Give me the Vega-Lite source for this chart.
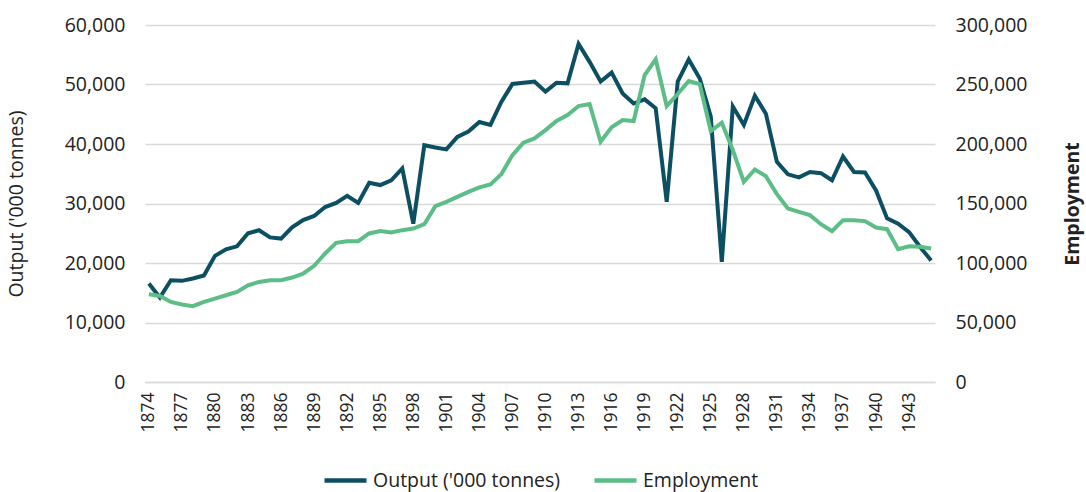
{
  "$schema": "https://vega.github.io/schema/vega-lite/v6.json",
  "width": 790,
  "height": 357,
  "autosize": {"type": "none"},
  "padding": {"left": 145, "top": 25, "right": 151, "bottom": 110},
  "background": "white",
  "config": {
    "view": {"stroke": null},
    "font": "Open Sans",
    "axis": {"labelFont": "Open Sans", "titleFont": "Open Sans", "labelColor": "#222222", "titleColor": "#222222", "labelFontSize": 19.5, "titleFontSize": 19.5},
    "legend": {"layout": {"bottom": {"anchor": "middle"}}}
  },
  "data": {
    "values": [
      {"year": 1874, "output": 16540, "employment": 73800},
      {"year": 1875, "output": 14200, "employment": 72300},
      {"year": 1876, "output": 17100, "employment": 67300},
      {"year": 1877, "output": 17000, "employment": 65100},
      {"year": 1878, "output": 17400, "employment": 63700},
      {"year": 1879, "output": 17900, "employment": 67300},
      {"year": 1880, "output": 21200, "employment": 70100},
      {"year": 1881, "output": 22300, "employment": 72900},
      {"year": 1882, "output": 22800, "employment": 75700},
      {"year": 1883, "output": 25000, "employment": 81300},
      {"year": 1884, "output": 25500, "employment": 84100},
      {"year": 1885, "output": 24300, "employment": 85500},
      {"year": 1886, "output": 24100, "employment": 85500},
      {"year": 1887, "output": 26000, "employment": 87800},
      {"year": 1888, "output": 27200, "employment": 91100},
      {"year": 1889, "output": 27900, "employment": 97600},
      {"year": 1890, "output": 29400, "employment": 108000},
      {"year": 1891, "output": 30100, "employment": 116900},
      {"year": 1892, "output": 31300, "employment": 118300},
      {"year": 1893, "output": 30100, "employment": 118300},
      {"year": 1894, "output": 33500, "employment": 124800},
      {"year": 1895, "output": 33100, "employment": 126800},
      {"year": 1896, "output": 33900, "employment": 125600},
      {"year": 1897, "output": 35900, "employment": 127600},
      {"year": 1898, "output": 26600, "employment": 129000},
      {"year": 1899, "output": 39800, "employment": 132600},
      {"year": 1900, "output": 39400, "employment": 147800},
      {"year": 1901, "output": 39100, "employment": 151400},
      {"year": 1902, "output": 41200, "employment": 155600},
      {"year": 1903, "output": 42100, "employment": 159800},
      {"year": 1904, "output": 43700, "employment": 163500},
      {"year": 1905, "output": 43200, "employment": 166000},
      {"year": 1906, "output": 47100, "employment": 174700},
      {"year": 1907, "output": 50100, "employment": 190700},
      {"year": 1908, "output": 50300, "employment": 201100},
      {"year": 1909, "output": 50500, "employment": 204700},
      {"year": 1910, "output": 48800, "employment": 211700},
      {"year": 1911, "output": 50300, "employment": 219300},
      {"year": 1912, "output": 50200, "employment": 224300},
      {"year": 1913, "output": 56800, "employment": 231900},
      {"year": 1914, "output": 53800, "employment": 233600},
      {"year": 1915, "output": 50500, "employment": 201900},
      {"year": 1916, "output": 52000, "employment": 214000},
      {"year": 1917, "output": 48500, "employment": 220100},
      {"year": 1918, "output": 46800, "employment": 219300},
      {"year": 1919, "output": 47500, "employment": 258000},
      {"year": 1920, "output": 46000, "employment": 271200},
      {"year": 1921, "output": 30300, "employment": 231900},
      {"year": 1922, "output": 50500, "employment": 242000},
      {"year": 1923, "output": 54200, "employment": 252900},
      {"year": 1924, "output": 51000, "employment": 250400},
      {"year": 1925, "output": 44600, "employment": 210900},
      {"year": 1926, "output": 20200, "employment": 217900},
      {"year": 1927, "output": 46300, "employment": 194900},
      {"year": 1928, "output": 43200, "employment": 168200},
      {"year": 1929, "output": 48100, "employment": 178600},
      {"year": 1930, "output": 45100, "employment": 173000},
      {"year": 1931, "output": 37000, "employment": 157900},
      {"year": 1932, "output": 34900, "employment": 145800},
      {"year": 1933, "output": 34400, "employment": 143000},
      {"year": 1934, "output": 35300, "employment": 140200},
      {"year": 1935, "output": 35100, "employment": 132600},
      {"year": 1936, "output": 33900, "employment": 126800},
      {"year": 1937, "output": 37900, "employment": 136000},
      {"year": 1938, "output": 35300, "employment": 136000},
      {"year": 1939, "output": 35200, "employment": 135200},
      {"year": 1940, "output": 32200, "employment": 129800},
      {"year": 1941, "output": 27500, "employment": 128400},
      {"year": 1942, "output": 26600, "employment": 111600},
      {"year": 1943, "output": 25200, "employment": 114100},
      {"year": 1944, "output": 22700, "employment": 113600},
      {"year": 1945, "output": 20400, "employment": 112200}
    ]
  },
  "encoding": {
    "x": {
      "field": "year",
      "type": "quantitative",
      "scale": {"domain": [1873.65, 1945.35], "nice": false, "zero": false},
      "axis": {
        "title": null,
        "values": [1874, 1877, 1880, 1883, 1886, 1889, 1892, 1895, 1898, 1901, 1904, 1907, 1910, 1913, 1916, 1919, 1922, 1925, 1928, 1931, 1934, 1937, 1940, 1943],
        "format": "d",
        "labelFontSize": 17.5,
        "labelAngle": -90,
        "labelAlign": "right",
        "labelBaseline": "middle",
        "labelPadding": 10,
        "ticks": false,
        "grid": false,
        "domainColor": "#d9d9d9",
        "domainWidth": 1.5
      }
    }
  },
  "layer": [
    {
      "mark": {"type": "line", "strokeWidth": 4, "strokeJoin": "miter"},
      "encoding": {
        "y": {
          "field": "output",
          "type": "quantitative",
          "scale": {"domain": [0, 60000], "nice": false},
          "axis": {
            "title": "Output ('000 tonnes)",
            "titleFontWeight": "normal",
            "titlePadding": 38,
            "values": [0, 10000, 20000, 30000, 40000, 50000, 60000],
            "format": ",d",
            "domain": false,
            "ticks": false,
            "labelPadding": 20,
            "gridColor": "#d9d9d9",
            "gridWidth": 1.5
          }
        },
        "color": {
          "datum": "Output ('000 tonnes)",
          "type": "nominal",
          "scale": {"domain": ["Output ('000 tonnes)", "Employment"], "range": ["#0c4f63", "#5cbd86"]},
          "legend": {
            "title": null,
            "orient": "bottom",
            "direction": "horizontal",
            "symbolType": "stroke",
            "symbolStrokeWidth": 4.5,
            "symbolSize": 1764,
            "labelOffset": 4,
            "labelLimit": 400,
            "labelFont": "Open Sans",
            "labelFontSize": 19.5,
            "labelColor": "#222222",
            "columnPadding": 24,
            "offset": 24
          }
        }
      }
    },
    {
      "mark": {"type": "line", "strokeWidth": 4, "strokeJoin": "miter"},
      "encoding": {
        "y": {
          "field": "employment",
          "type": "quantitative",
          "scale": {"domain": [0, 300000], "nice": false},
          "axis": {
            "orient": "right",
            "title": "Employment",
            "titleFontWeight": "bold",
            "titleAngle": 270,
            "titlePadding": 56,
            "values": [0, 50000, 100000, 150000, 200000, 250000, 300000],
            "format": ",d",
            "domain": false,
            "ticks": false,
            "grid": false,
            "labelPadding": 20
          }
        },
        "color": {"datum": "Employment", "type": "nominal"}
      }
    }
  ],
  "resolve": {"scale": {"y": "independent"}}
}
